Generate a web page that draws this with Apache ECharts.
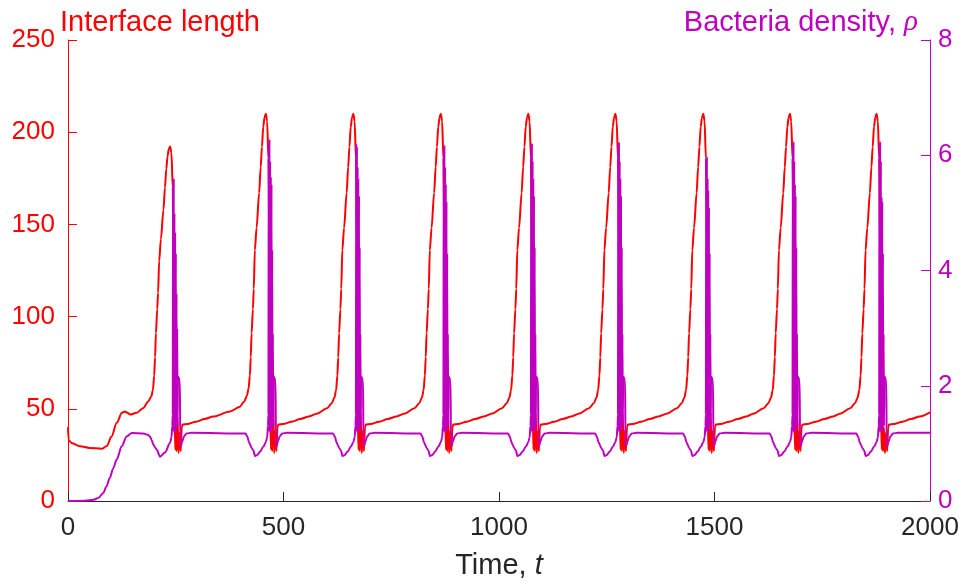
<!DOCTYPE html>
<html>
<head>
<meta charset="utf-8">
<script src="https://cdn.jsdelivr.net/npm/echarts@6/dist/echarts.min.js"></script>
<style>
  html, body { margin: 0; padding: 0; background: #fff; }
  #main { width: 966px; height: 586px; }
</style>
</head>
<body>
<div id="main"></div>
<script>
// axis ranges: [min, max, step]
var timeAxis = [0, 2000, 500];
var lengthAxis = [0, 250, 50];
var densityAxis = [0, 8, 2];

// Interface length, one line per oscillation (t, value)
var interfaceLength = [
  [0,40],[1.5,33],[8,31.5],[28,29.7],[50,28.8],[78,28.3],[90,29.8],[101,35],[113,42.4],[125,47.8],[132,48.6],[138,47.8],[144,46.9],[159,47.8],[175,50.5],[186,54],[193,56.5],[197,60],[200,68],[202,78],[204,91],[207,104],[209,113],[211.5,130],[215.5,142],[221.5,158],[225,170],[228,180],[231,187],[234,191],[237,192.2],[240,189],[243,170],[245,130],[246.5,85],[247.5,45],[249,28],[250.5,42],[252,27],[254,46],[256.5,26],[259,37],[261.5,27],[264,40],[266,41.5],[277,41.8],[297,43],[317,44.5],[337,45.8],
  [376,48.5],[398,51],[409,54],[415,57],[419,61],[422,68],[424,78],[426,91],[429,104],[431,115],[433.5,136],[437.5,148],[443.5,167],[447,181],[450,192],[453,203],[456,208],[459,210],[462,206],[465,186],[467,140],[468.5,90],[469.5,45],[471,28],[472.5,42],[474,27],[476,54],[478.5,26],[481,38],[483.5,27],[486,40],[488,41.5],[499,41.8],[519,43],[539,44.5],[559,45.8],
  [579,47.5],[601,50.3],[612,53],[618,56],[622,60],[625,68],[627,78],[629,91],[632,104],[634,115],[636.5,136],[640.5,148],[646.5,167],[650,181],[653,192],[656,203],[659,208],[662,210],[665,206],[668,186],[670,140],[671.5,90],[672.5,45],[674,28],[675.5,42],[677,27],[679,48],[681.5,26],[684,38],[686.5,27],[689,40],[691,41.5],[702,41.8],[722,43],[742,44.5],[762,45.8],
  [782,47.5],[804,50.3],[815,53],[821,56],[825,60],[828,68],[830,78],[832,91],[835,104],[837,115],[839.5,136],[843.5,148],[849.5,167],[853,181],[856,192],[859,203],[862,208],[865,210],[868,206],[871,186],[873,140],[874.5,90],[875.5,45],[877,28],[878.5,42],[880,27],[882,46],[884.5,26],[887,38],[889.5,27],[892,40],[894,41.5],[905,41.8],[925,43],[945,44.5],[965,45.8],
  [985,47.5],[1007,50.3],[1018,53],[1024,56],[1028,60],[1031,68],[1033,78],[1035,91],[1038,104],[1040,115],[1042.5,136],[1046.5,148],[1052.5,167],[1056,181],[1059,192],[1062,203],[1065,208],[1068,210],[1071,206],[1074,186],[1076,140],[1077.5,90],[1078.5,45],[1080,28],[1081.5,42],[1083,27],[1085,48],[1087.5,26],[1090,38],[1092.5,27],[1095,40],[1097,41.5],[1108,41.8],[1128,43],[1148,44.5],[1168,45.8],
  [1187,47.5],[1209,50.3],[1220,53],[1226,56],[1230,60],[1233,68],[1235,78],[1237,91],[1240,104],[1242,115],[1244.5,136],[1248.5,148],[1254.5,167],[1258,181],[1261,192],[1264,203],[1267,208],[1270,210],[1273,206],[1276,186],[1278,140],[1279.5,90],[1280.5,45],[1282,28],[1283.5,42],[1285,27],[1287,47],[1289.5,26],[1292,38],[1294.5,27],[1297,40],[1299,41.5],[1310,41.8],[1330,43],[1350,44.5],[1370,45.8],
  [1391,47.5],[1413,50.3],[1424,53],[1430,56],[1434,60],[1437,68],[1439,78],[1441,91],[1444,104],[1446,115],[1448.5,136],[1452.5,148],[1458.5,167],[1462,181],[1465,192],[1468,203],[1471,208],[1474,210],[1477,206],[1480,186],[1482,140],[1483.5,90],[1484.5,45],[1486,28],[1487.5,42],[1489,27],[1491,48],[1493.5,26],[1496,38],[1498.5,27],[1501,40],[1503,41.5],[1514,41.8],[1534,43],[1554,44.5],[1574,45.8],
  [1592,47.5],[1614,50.3],[1625,53],[1631,56],[1635,60],[1638,68],[1640,78],[1642,91],[1645,104],[1647,115],[1649.5,136],[1653.5,148],[1659.5,167],[1663,181],[1666,192],[1669,203],[1672,208],[1675,210],[1678,206],[1681,186],[1683,140],[1684.5,90],[1685.5,45],[1687,28],[1688.5,42],[1690,27],[1692,47],[1694.5,26],[1697,38],[1699.5,27],[1702,40],[1704,41.5],[1715,41.8],[1735,43],[1755,44.5],[1775,45.8],
  [1793,47.5],[1815,50.3],[1826,53],[1832,56],[1836,60],[1839,68],[1841,78],[1843,91],[1846,104],[1848,115],[1850.5,136],[1854.5,148],[1860.5,167],[1864,181],[1867,192],[1870,203],[1873,208],[1876,210],[1879,206],[1882,186],[1884,140],[1885.5,90],[1886.5,45],[1888,28],[1889.5,42],[1891,27],[1893,40],[1895.5,26],[1898,37],[1900.5,27],[1903,40],[1905,41.5],[1916,41.8],[1936,43],[1956,44.5],[1976,45.8],[2000,48]
];

// Bacteria density rho, one line per oscillation (t, value)
var bacteriaDensity = [
  [0,0],[40,0.005],[58.7,0.02],[70,0.05],[82,0.14],[89,0.25],[97,0.4],[105,0.57],[113,0.72],[124.6,0.95],[136,1.12],[148,1.18],[175,1.17],[185,1.15],[190,1.12],[194,1.06],[198,0.98],[202,0.93],[206,0.89],[213.5,0.77],[225,0.84],[237,1.01],[240,1.1],[242,1.3],
  [243,1.5],[243.8,5.5],[244.6,1.2],[245.4,5.6],[246.2,1.2],[247,5.0],[247.8,1.2],[248.6,4.67],[249.4,1.2],[250.2,4.3],[251,1.3],[251.8,3.6],[252.6,1.3],[253.4,3.0],[254.2,1.3],[255,2.16],[259.5,2.1],[260.5,1.05],[262,0.96],[265,1.03],[269,1.12],[275,1.17],[287,1.185],
  [412,1.17],[416,1.12],[420,1.02],[423,0.97],[426,0.92],[430,0.88],[434,0.78],[439,0.8],[446,0.86],[453,0.94],[459,1.02],[462,1.1],[464,1.3],
  [465,1.5],[465.8,6.2],[466.6,1.2],[467.4,6.28],[468.2,1.2],[469,5.9],[469.8,1.2],[470.6,5.63],[471.4,1.2],[472.2,5.5],[473,1.3],[473.8,4.36],[474.6,1.3],[475.4,2.9],[476.2,1.3],[477,2.16],[481.5,2.1],[482.5,1.05],[484,0.96],[487,1.03],[491,1.12],[497,1.17],[509,1.185],
  [615,1.17],[619,1.12],[623,1.02],[626,0.97],[629,0.92],[633,0.88],[637,0.78],[642,0.8],[649,0.86],[656,0.94],[662,1.02],[665,1.1],[667,1.3],
  [668,1.5],[668.8,6.2],[669.6,1.2],[670.4,6.15],[671.2,1.2],[672,5.8],[672.8,1.2],[673.6,5.6],[674.4,1.2],[675.2,5.3],[676,1.3],[676.8,4.4],[677.6,1.3],[678.4,2.9],[679.2,1.3],[680,2.16],[684.5,2.1],[685.5,1.05],[687,0.96],[690,1.03],[694,1.12],[700,1.17],[712,1.185],
  [818,1.17],[822,1.12],[826,1.02],[829,0.97],[832,0.92],[836,0.88],[840,0.78],[845,0.8],[852,0.86],[859,0.94],[865,1.02],[868,1.1],[870,1.3],
  [871,1.5],[871.8,6.1],[872.6,1.2],[873.4,6.18],[874.2,1.2],[875,5.8],[875.8,1.2],[876.6,5.5],[877.4,1.2],[878.2,5.2],[879,1.3],[879.8,4.3],[880.6,1.3],[881.4,2.9],[882.2,1.3],[883,2.16],[887.5,2.1],[888.5,1.05],[890,0.96],[893,1.03],[897,1.12],[903,1.17],[915,1.185],
  [1021,1.17],[1025,1.12],[1029,1.02],[1032,0.97],[1035,0.92],[1039,0.88],[1043,0.78],[1048,0.8],[1055,0.86],[1062,0.94],[1068,1.02],[1071,1.1],[1073,1.3],
  [1074,1.5],[1074.8,6.2],[1075.6,1.2],[1076.4,6.21],[1077.2,1.2],[1078,5.9],[1078.8,1.2],[1079.6,5.6],[1080.4,1.2],[1081.2,5.3],[1082,1.3],[1082.8,4.4],[1083.6,1.3],[1084.4,2.9],[1085.2,1.3],[1086,2.16],[1090.5,2.1],[1091.5,1.05],[1093,0.96],[1096,1.03],[1100,1.12],[1106,1.17],[1118,1.185],
  [1223,1.17],[1227,1.12],[1231,1.02],[1234,0.97],[1237,0.92],[1241,0.88],[1245,0.78],[1250,0.8],[1257,0.86],[1264,0.94],[1270,1.02],[1273,1.1],[1275,1.3],
  [1276,1.5],[1276.8,6.2],[1277.6,1.2],[1278.4,6.23],[1279.2,1.2],[1280,5.9],[1280.8,1.2],[1281.6,5.6],[1282.4,1.2],[1283.2,5.3],[1284,1.3],[1284.8,4.4],[1285.6,1.3],[1286.4,2.9],[1287.2,1.3],[1288,2.16],[1292.5,2.1],[1293.5,1.05],[1295,0.96],[1298,1.03],[1302,1.12],[1308,1.17],[1320,1.185],
  [1427,1.17],[1431,1.12],[1435,1.02],[1438,0.97],[1441,0.92],[1445,0.88],[1449,0.78],[1454,0.8],[1461,0.86],[1468,0.94],[1474,1.02],[1477,1.1],[1479,1.3],
  [1480,1.5],[1480.8,5.9],[1481.6,1.2],[1482.4,5.98],[1483.2,1.2],[1484,5.6],[1484.8,1.2],[1485.6,5.4],[1486.4,1.2],[1487.2,5.1],[1488,1.3],[1488.8,4.3],[1489.6,1.3],[1490.4,2.9],[1491.2,1.3],[1492,2.16],[1496.5,2.1],[1497.5,1.05],[1499,0.96],[1502,1.03],[1506,1.12],[1512,1.17],[1524,1.185],
  [1628,1.17],[1632,1.12],[1636,1.02],[1639,0.97],[1642,0.92],[1646,0.88],[1650,0.78],[1655,0.8],[1662,0.86],[1669,0.94],[1675,1.02],[1678,1.1],[1680,1.3],
  [1681,1.5],[1681.8,6.2],[1682.6,1.2],[1683.4,6.24],[1684.2,1.2],[1685,5.9],[1685.8,1.2],[1686.6,5.5],[1687.4,1.2],[1688.2,5.3],[1689,1.3],[1689.8,4.4],[1690.6,1.3],[1691.4,2.9],[1692.2,1.3],[1693,2.16],[1697.5,2.1],[1698.5,1.05],[1700,0.96],[1703,1.03],[1707,1.12],[1713,1.17],[1725,1.185],
  [1829,1.17],[1833,1.12],[1837,1.02],[1840,0.97],[1843,0.92],[1847,0.88],[1851,0.78],[1856,0.8],[1863,0.86],[1870,0.94],[1876,1.02],[1879,1.1],[1881,1.3],
  [1882,1.5],[1882.8,6.2],[1883.6,1.2],[1884.4,6.24],[1885.2,1.2],[1886,5.9],[1886.8,1.2],[1887.6,5.28],[1888.4,1.2],[1889.2,5.2],[1890,1.3],[1890.8,4.3],[1891.6,1.3],[1892.4,2.9],[1893.2,1.3],[1894,2.16],[1898.5,2.1],[1899.5,1.05],[1901,0.96],[1904,1.03],[1908,1.12],[1914,1.17],[1926,1.185],[2000,1.185]
];

var RED = '#ff0000';
var MAGENTA = '#bf00bf';
var AXIS_GREY = '#262626';
var FONT = '"Liberation Sans", Arial, Helvetica, sans-serif';

var chart = echarts.init(document.getElementById('main'));

var option = {
    animation: false,
    backgroundColor: '#fff',
    title: [{
            text: 'Interface length',
            left: 55,
            top: 3,
            textStyle: { color: RED, fontSize: 29, fontWeight: 'normal', fontFamily: FONT }
        },
        {
            text: '{a|Bacteria density, }{b|ρ}',
            right: 43,
            top: 3,
            textStyle: {
                fontWeight: 'normal',
                rich: {
                    a: { color: MAGENTA, fontSize: 29, fontWeight: 'normal', fontFamily: FONT },
                    b: { color: MAGENTA, fontSize: 29, fontWeight: 'normal', fontStyle: 'italic', fontFamily: '"Liberation Serif", serif' }
                }
            }
        }
    ],
    grid: { left: 68, right: 36, top: 40, bottom: 85 },
    xAxis: {
        type: 'value',
        min: timeAxis[0],
        max: timeAxis[1],
        interval: timeAxis[2],
        name: '{a|Time, }{b|t}',
        nameLocation: 'middle',
        nameGap: 50,
        nameTextStyle: {
            rich: {
                a: { color: AXIS_GREY, fontSize: 29, fontFamily: FONT },
                b: { color: AXIS_GREY, fontSize: 29, fontStyle: 'italic', fontFamily: FONT }
            }
        },
        axisLine: { lineStyle: { color: AXIS_GREY, width: 1 } },
        axisTick: { inside: true, length: 9, lineStyle: { color: AXIS_GREY } },
        axisLabel: {
            color: AXIS_GREY, fontSize: 26, fontFamily: FONT, margin: 14,
            formatter: function(v) { return String(v); }
        },
        splitLine: { show: false }
    },
    yAxis: [{
            type: 'value',
            position: 'left',
            min: lengthAxis[0],
            max: lengthAxis[1],
            interval: lengthAxis[2],
            axisLine: { show: true, lineStyle: { color: RED, width: 1 } },
            axisTick: { show: true, inside: true, length: 9, lineStyle: { color: RED } },
            axisLabel: { color: RED, fontSize: 26, fontFamily: FONT, margin: 13 },
            splitLine: { show: false }
        },
        {
            type: 'value',
            position: 'right',
            min: densityAxis[0],
            max: densityAxis[1],
            interval: densityAxis[2],
            axisLine: { show: true, lineStyle: { color: MAGENTA, width: 1 } },
            axisTick: { show: true, inside: true, length: 9, lineStyle: { color: MAGENTA } },
            axisLabel: { color: MAGENTA, fontSize: 26, fontFamily: FONT, margin: 8 },
            splitLine: { show: false }
        }
    ],
    series: [{
            name: 'Interface length',
            type: 'line',
            yAxisIndex: 0,
            data: interfaceLength,
            showSymbol: false,
            smooth: 0.3,
            smoothMonotone: 'x',
            z: 2,
            lineStyle: { color: RED, width: 2 }
        },
        {
            name: 'Bacteria density',
            type: 'line',
            yAxisIndex: 1,
            data: bacteriaDensity,
            showSymbol: false,
            smooth: 0.3,
            smoothMonotone: 'x',
            z: 3,
            lineStyle: { color: MAGENTA, width: 2 }
        }
    ]
};

chart.setOption(option);
</script>
</body>
</html>
